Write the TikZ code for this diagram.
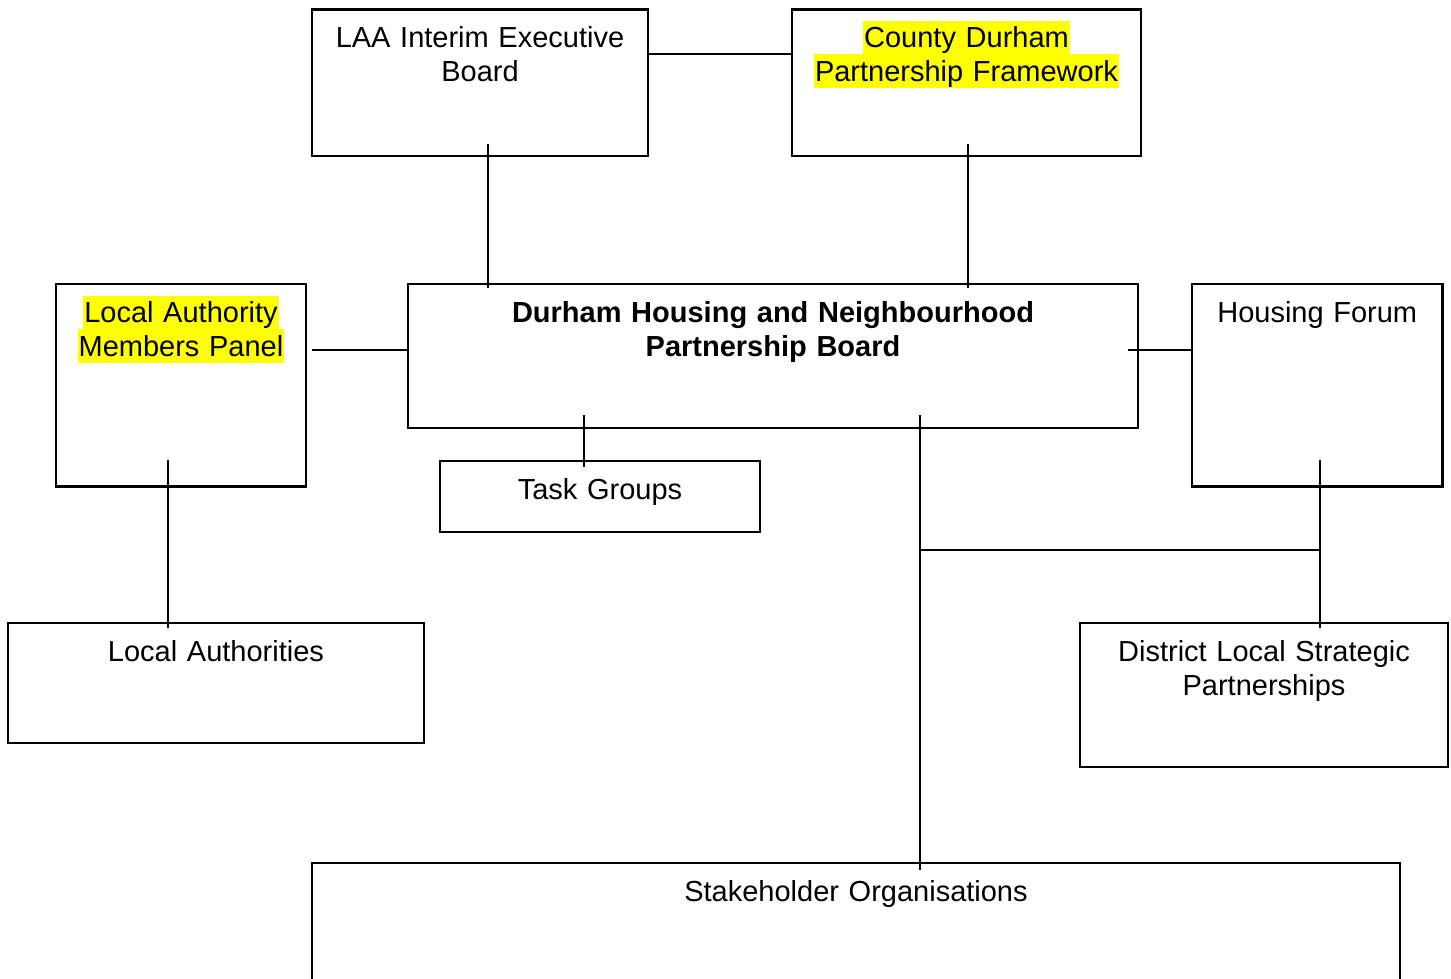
\documentclass[tikz,border=0pt]{standalone}
\usepackage{fontspec}
\setmainfont{Liberation Sans}
\usepackage{xcolor}
\definecolor{hlyellow}{RGB}{255,255,0}
\newcommand{\hlt}[1]{\begingroup\setlength{\fboxsep}{0pt}\colorbox{hlyellow}{\rule[-3.25pt]{0pt}{16.75pt}\hspace{0.5pt}#1\hspace{0.5pt}}\endgroup}
\newcommand{\fstrut}{\rule{0pt}{13.5pt}}
\tikzset{
  orgbox/.style={draw=black, line width=1.15pt, rectangle, inner sep=0pt, outer sep=0pt},
  boxtext/.style={anchor=north, inner sep=0pt, outer sep=0pt, align=center,
    font=\fontsize{14.5}{16.75}\selectfont, yshift=-5.75pt},
  link/.style={draw=black, line width=1pt}
}
\begin{document}
\begin{tikzpicture}[x=0.5pt,y=-0.5pt]
\useasboundingbox (0,0) rectangle (1451,979);

% boxes
\node[orgbox, minimum width=168pt,   minimum height=73.25pt]  (laa)   at (480,82.75)    {};
\node[orgbox, minimum width=174.5pt, minimum height=73.25pt]  (cdpf)  at (966.5,82.75)  {};
\node[orgbox, minimum width=365pt,   minimum height=72pt]     (dh)    at (773,356)      {};
\node[orgbox, minimum width=125pt,   minimum height=101.25pt] (lamp)  at (181,385.25)   {};
\node[orgbox, minimum width=125.25pt,minimum height=101.25pt] (hf)    at (1317.25,385.25) {};
\node[orgbox, minimum width=160pt,   minimum height=35.5pt]   (task)  at (600,496.5)    {};
\node[orgbox, minimum width=208pt,   minimum height=60pt]     (la)    at (216,683)      {};
\node[orgbox, minimum width=184pt,   minimum height=72pt]     (dlsp)  at (1264,695)     {};
\node[orgbox, minimum width=544pt,   minimum height=73.5pt]   (stake) at (856,936.5)    {};

% texts
\node[boxtext, text width=168pt]   (laa-t)   at (laa.north)   {\fstrut LAA Interim Executive\\Board};
\node[boxtext, text width=174.5pt] (cdpf-t)  at (cdpf.north)  {\hlt{County Durham}\\\hlt{Partnership Framework}};
\node[boxtext, text width=365pt, font=\fontsize{14.5}{16.75}\selectfont\bfseries] (dh-t) at (dh.north) {\fstrut Durham Housing and Neighbourhood\\Partnership Board};
\node[boxtext, text width=125pt]   (lamp-t)  at (lamp.north)  {\hlt{Local Authority}\\\hlt{Members Panel}};
\node[boxtext, text width=125.25pt](hf-t)    at (hf.north)    {\fstrut Housing Forum};
\node[boxtext, text width=160pt]   (task-t)  at (task.north)  {\fstrut Task Groups};
\node[boxtext, text width=208pt]   (la-t)    at (la.north)    {\fstrut Local Authorities};
\node[boxtext, text width=184pt]   (dlsp-t)  at (dlsp.north)  {\fstrut District Local Strategic\\Partnerships};
\node[boxtext, text width=544pt]   (stake-t) at (stake.north) {\fstrut Stakeholder Organisations};

% connector end points
\coordinate (laa-d)   at (488,144);
\coordinate (dh-u1)   at (488,288);
\coordinate (cdpf-d)  at (968,144);
\coordinate (dh-u2)   at (968,288);
\coordinate (lamp-r)  at (312,350);
\coordinate (dh-l)    at (408,350);
\coordinate (dh-r)    at (1128,350);
\coordinate (hf-l)    at (1192,350);
\coordinate (dh-d1)   at (584,415);
\coordinate (task-u)  at (584,467);
\coordinate (dh-d2)   at (920,415);
\coordinate (stake-u) at (920,870);
\coordinate (junc)    at (920,550);
\coordinate (hfjunc)  at (1320,550);
\coordinate (hf-d)    at (1320,460);
\coordinate (dlsp-u)  at (1320,628);
\coordinate (lamp-d)  at (168,460);
\coordinate (la-u)    at (168,628);

% connectors
\draw[link] ([yshift=14.4pt]laa.east) -- ([yshift=14.4pt]cdpf.west);
\draw[link] (laa-d) -- (dh-u1);
\draw[link] (cdpf-d) -- (dh-u2);
\draw[link] (lamp-r) -- (dh-l);
\draw[link] (dh-r) -- (hf-l);
\draw[link] (dh-d1) -- (task-u);
\draw[link] (dh-d2) -- (stake-u);
\draw[link] (junc) -- (hfjunc);
\draw[link] (hf-d) -- (dlsp-u);
\draw[link] (lamp-d) -- (la-u);
\end{tikzpicture}
\end{document}
